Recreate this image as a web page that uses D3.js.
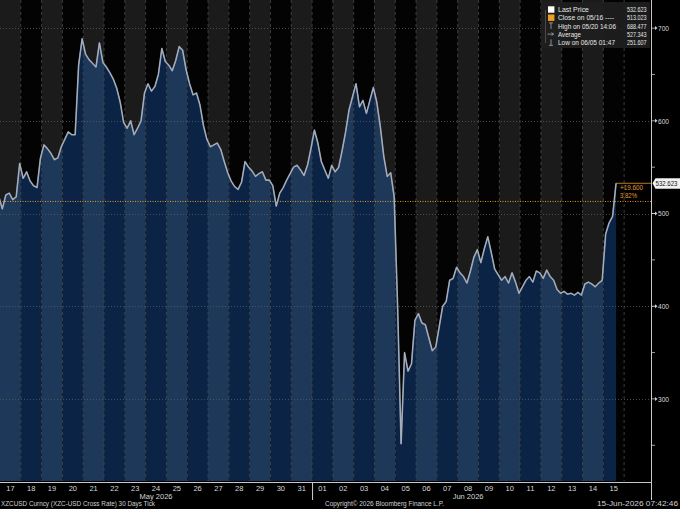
<!DOCTYPE html>
<html>
<head>
<meta charset="utf-8">
<script src="https://cdn.jsdelivr.net/npm/d3@7"></script>
<style>
html,body{margin:0;padding:0;background:#000;}
svg{display:block;}
text{font-family:"Liberation Sans",Arial,sans-serif;}
</style>
</head>
<body>
<svg id="chart" width="680" height="509"></svg>
<script>
// ---- data ----
const seriesStart = new Date(2026, 4, 16, 14, 42); // first sample (chart time)
const stepHours = 4;
const prices = [
  516, 514, 518, 505, 520, 522, 515, 518, 554, 538, 545, 535, 530, 528, 560, 574,
  570, 565, 558, 560, 572, 580, 588, 585, 585, 660, 688.477, 672, 666, 662, 658, 684,
  663, 658, 652, 645, 635, 620, 598, 592, 600, 585, 592, 600, 630, 640, 632, 637,
  650, 678, 664, 660, 654, 665, 680, 676, 655, 640, 628, 630, 617, 595, 580, 572,
  574, 576, 569, 556, 544, 535, 529, 526, 534, 556, 550, 546, 540, 543, 545, 536,
  536, 530, 508, 522, 528, 536, 543, 550, 552, 547, 541, 552, 570, 590, 576, 556,
  547, 538, 552, 545, 550, 568, 588, 612, 626, 640, 615, 622, 608, 622, 636, 620,
  594, 562, 540, 544, 518, 400, 251.607, 350, 330, 338, 385, 392, 382, 380, 366, 352,
  356, 378, 400, 405, 428, 430, 442, 436, 432, 425, 438, 453, 461, 447, 462, 475,
  458, 440, 434, 428, 432, 425, 436, 426, 414, 421, 428, 432, 426, 438, 436, 430,
  439, 432, 428, 418, 414, 416, 413, 414, 412, 415, 412, 424, 426, 424, 421, 425,
  428, 478, 490, 497, 532.623
];
const days = d3.range(0, 30).map(d => new Date(2026, 4, 17 + d));
const months = [{label: "May 2026", date: new Date(2026, 4, 24)}, {label: "Jun 2026", date: new Date(2026, 5, 8)}];
const yTicks = [300, 400, 500, 600, 700];
const yMinorTicks = [250, 350, 450, 550, 650];
const prevClose = 513.023;
const lastPrice = 532.623;
const legendRows = [
  {label: "Last Price", value: "532.623", icon: "white", w: 31},
  {label: "Close on 05/16 ----", value: "513.023", icon: "orange", w: 56},
  {label: "High on 05/20 14:06", value: "688.477", icon: "high", w: 58},
  {label: "Average", value: "527.343", icon: "avg", w: 23},
  {label: "Low on 06/05 01:47", value: "251.607", icon: "low", w: 57}
];
const footerLeft = "XZCUSD Curncy (XZC-USD Cross Rate) 30 Days Tick";
const footerMid = "Copyright\u00A9 2026 Bloomberg Finance L.P.";
const footerRight = "15-Jun-2026 07:42:46";

// ---- layout ----
const W = 680, H = 509;
const plotRight = 651, plotBottom = 481;
const svg = d3.select("#chart");
svg.append("rect").attr("width", W).attr("height", H).attr("fill", "#000");

const x = d3.scaleTime()
  .domain([new Date(2026, 4, 17), new Date(2026, 5, 17, 7, 0)])
  .range([0, plotRight]);
const y = d3.scaleLinear().domain([211.5, 730.3]).range([plotBottom, 0]);

const data = prices.map((v, i) => ({t: d3.timeHour.offset(seriesStart, i * stepHours), v}));
const dayMs = 864e5;

function fit(sel, len) {
  return sel.attr("textLength", len).attr("lengthAdjust", "spacingAndGlyphs");
}

// clip
const defs = svg.append("defs");
defs.append("clipPath").attr("id", "plotClip").append("rect")
  .attr("x", 0).attr("y", 0).attr("width", plotRight).attr("height", plotBottom);

const area = d3.area().x(d => x(d.t)).y0(plotBottom).y1(d => y(d.v));
defs.append("clipPath").attr("id", "areaClip").append("path").attr("d", area(data));

const plot = svg.append("g").attr("clip-path", "url(#plotClip)");

// alternating day background
plot.selectAll("rect.bg").data(days).join("rect")
  .attr("class", "bg")
  .attr("x", d => x(d)).attr("y", 0)
  .attr("width", d => x(new Date(+d + dayMs)) - x(d))
  .attr("height", plotBottom)
  .attr("fill", (d, i) => i % 2 === 0 ? "#1b1b1b" : "#030303");

// area with alternating shades
const ag = plot.append("g").attr("clip-path", "url(#areaClip)");
ag.selectAll("rect").data(days).join("rect")
  .attr("x", d => x(d)).attr("y", 0)
  .attr("width", d => x(new Date(+d + dayMs)) - x(d))
  .attr("height", plotBottom)
  .attr("fill", (d, i) => i % 2 === 0 ? "#1d3859" : "#0b2446");

// horizontal grid
plot.selectAll("line.hg").data(yTicks).join("line")
  .attr("x1", 0).attr("x2", plotRight)
  .attr("y1", d => Math.round(y(d)) + 0.5).attr("y2", d => Math.round(y(d)) + 0.5)
  .attr("stroke", "#5a5a5a").attr("stroke-width", 0.8).attr("stroke-dasharray", "1,2");

// vertical day separators
plot.selectAll("line.vg").data(days.slice(1).concat([new Date(2026, 5, 16)])).join("line")
  .attr("x1", d => x(d)).attr("x2", d => x(d))
  .attr("y1", 0).attr("y2", plotBottom)
  .attr("stroke", "#4a4a4a").attr("stroke-width", 0.8).attr("stroke-dasharray", "3,3");

// previous close dotted line
plot.append("line")
  .attr("x1", 0).attr("x2", plotRight)
  .attr("y1", y(prevClose)).attr("y2", y(prevClose))
  .attr("stroke", "#e59a2a").attr("stroke-width", 1).attr("stroke-dasharray", "1,1.5");

// price line
const line = d3.line().x(d => x(d.t)).y(d => y(d.v));
plot.append("path").attr("d", line(data))
  .attr("fill", "none").attr("stroke", "#8e98a8").attr("stroke-width", 1.6)
  .attr("stroke-linejoin", "round");
plot.append("path").attr("d", line(data))
  .attr("fill", "none").attr("stroke", "#b9c0cb").attr("stroke-width", 0.6)
  .attr("stroke-linejoin", "round");

// last price marker line and change annotation
const lastX = x(data[data.length - 1].t);
svg.append("line")
  .attr("x1", lastX).attr("x2", plotRight)
  .attr("y1", y(lastPrice)).attr("y2", y(lastPrice))
  .attr("stroke", "#e59a2a").attr("stroke-width", 0.8);
fit(svg.append("text").attr("x", 620).attr("y", y(lastPrice) + 6.5)
  .attr("fill", "#e59a2a").attr("font-size", 7.5)
  .text("+" + (lastPrice - prevClose).toFixed(3)), 23);
fit(svg.append("text").attr("x", 620).attr("y", y(lastPrice) + 15)
  .attr("fill", "#e59a2a").attr("font-size", 7.5)
  .text(((lastPrice - prevClose) / prevClose * 100).toFixed(2) + "%"), 17);

// axes lines
svg.append("line").attr("x1", plotRight + 0.5).attr("x2", plotRight + 0.5)
  .attr("y1", 0).attr("y2", 500).attr("stroke", "#c8c8c8").attr("stroke-width", 1);
svg.append("line").attr("x1", 0).attr("x2", plotRight)
  .attr("y1", plotBottom + 1.5).attr("y2", plotBottom + 1.5)
  .attr("stroke", "#c8c8c8").attr("stroke-width", 1);

// right axis ticks
const ra = svg.append("g");
ra.selectAll("line.mn").data(yMinorTicks).join("line")
  .attr("x1", plotRight + 1).attr("x2", plotRight + 4)
  .attr("y1", d => y(d)).attr("y2", d => y(d))
  .attr("stroke", "#c8c8c8").attr("stroke-width", 0.8);
ra.selectAll("path.mj").data(yTicks).join("path")
  .attr("d", d => `M${plotRight + 1},${y(d) - 0.4}h3v-1.6l2.5,2l-2.5,2v-1.6h-3z`)
  .attr("fill", "#d0d0d0");
ra.selectAll("text").data(yTicks).join("text")
  .attr("x", plotRight + 7).attr("y", d => y(d) + 2.8)
  .attr("fill", "#d8d8d8").attr("font-size", 8)
  .attr("textLength", 11).attr("lengthAdjust", "spacingAndGlyphs")
  .text(d => d);

// last price tag
const ly = y(lastPrice);
svg.append("path")
  .attr("d", `M${plotRight + 1.5},${ly}L${plotRight + 4.5},${ly - 5}H680V${ly + 5.5}H${plotRight + 4.5}Z`)
  .attr("fill", "#f2f2f2");
fit(svg.append("text").attr("x", 655.5).attr("y", ly + 2.8)
  .attr("fill", "#111").attr("font-size", 6.6).text(lastPrice.toFixed(3)), 22);

// bottom axis labels
const xa = svg.append("g");
xa.selectAll("text").data(days).join("text")
  .attr("x", d => x(d3.timeHour.offset(d, 12)))
  .attr("y", 491).attr("text-anchor", "middle")
  .attr("fill", "#d8d8d8").attr("font-size", 7.5)
  .text(d => d3.timeFormat("%d")(d));
xa.selectAll("text.m").data(months).join("text")
  .attr("class", "m")
  .attr("x", d => x(d3.timeHour.offset(d.date, 12)))
  .attr("y", 499).attr("text-anchor", "middle")
  .attr("fill", "#d8d8d8").attr("font-size", 7.5)
  .text(d => d.label);
svg.append("line")
  .attr("x1", x(new Date(2026, 5, 1)) + 0.5).attr("x2", x(new Date(2026, 5, 1)) + 0.5)
  .attr("y1", plotBottom + 1).attr("y2", 500)
  .attr("stroke", "#d0d0d0").attr("stroke-width", 1);

// footer
fit(svg.append("text").attr("x", 1).attr("y", 506).attr("fill", "#d0d0d0").attr("font-size", 7).text(footerLeft), 154);
fit(svg.append("text").attr("x", 325).attr("y", 506).attr("fill", "#d0d0d0").attr("font-size", 7).text(footerMid), 119);
fit(svg.append("text").attr("x", 597).attr("y", 506).attr("fill", "#d0d0d0").attr("font-size", 7).text(footerRight), 81);

// legend
const lg = svg.append("g");
lg.append("rect").attr("x", 541).attr("y", 2).attr("width", 109).attr("height", 46)
  .attr("fill", "#1e1e1e").attr("opacity", 0.92);
lg.append("line").attr("x1", 545.5).attr("x2", 545.5).attr("y1", 10).attr("y2", 43)
  .attr("stroke", "#555").attr("stroke-width", 0.8);
legendRows.forEach((r, i) => {
  const cy = 9.5 + i * 8.2;
  if (r.icon === "white" || r.icon === "orange") {
    lg.append("rect").attr("x", 548).attr("y", cy - 3.2).attr("width", 6.4).attr("height", 6.4)
      .attr("fill", r.icon === "white" ? "#ffffff" : "#f0a01e");
  } else if (r.icon === "high") {
    lg.append("path").attr("d", `M549,${cy - 3}h4M551,${cy - 3}v6`).attr("stroke", "#aaa").attr("stroke-width", 0.8).attr("fill", "none");
  } else if (r.icon === "avg") {
    lg.append("path").attr("d", `M547.5,${cy}h6M551.5,${cy - 1.5}l2,1.5l-2,1.5`).attr("stroke", "#aaa").attr("stroke-width", 0.8).attr("fill", "none");
  } else {
    lg.append("path").attr("d", `M551,${cy - 3}v6M549,${cy + 3}h4`).attr("stroke", "#aaa").attr("stroke-width", 0.8).attr("fill", "none");
  }
  fit(lg.append("text").attr("x", 558).attr("y", cy + 2.7).attr("fill", "#e6e6e6").attr("font-size", 7.5).text(r.label), r.w);
  fit(lg.append("text").attr("x", 627).attr("y", cy + 2.7).attr("fill", "#e6e6e6").attr("font-size", 7.5).text(r.value), 19.5);
});
</script>
</body>
</html>
